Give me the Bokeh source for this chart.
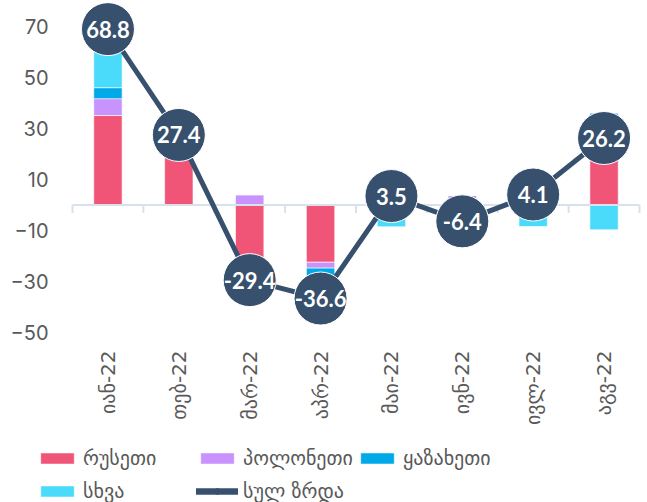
from bokeh.plotting import figure
from bokeh.models import Range1d, FixedTicker, Legend, LegendItem, ColumnDataSource
from bokeh.core.properties import value
from bokeh.embed import file_html
from bokeh.resources import INLINE

months = ["იან-22", "თებ-22", "მარ-22", "აპრ-22", "მაი-22", "ივნ-22", "ივლ-22", "აგვ-22"]
russia     = [35.0, 18.7, -30.0, -22.4, 12.0, 0.0, 12.5, 34.9]
poland     = [6.6, 0.0, 4.0, -2.3, 0.0, 3.7, 0.0, 0.0]
kazakhstan = [4.3, 0.0, 0.0, -4.5, 0.0, 0.0, 0.0, 1.0]
other      = [22.9, 0.0, -3.4, -7.4, -8.5, -10.1, -8.4, -9.7]
total      = [68.8, 27.4, -29.4, -36.6, 3.5, -6.4, 4.1, 26.2]
series_names = ["რუსეთი", "პოლონეთი", "ყაზახეთი", "სხვა"]
total_name = "სულ ზრდა"
y_ticks = [-50, -30, -10, 10, 30, 50, 70]

colors = ["#F05577", "#C893FC", "#00AAE8", "#4ADAFA"]
dark = "#36506E"
grey = "#595959"
axis_col = "#D9E1EE"
geo_font = "DejaVu Sans"

n = len(months)
xc = [i + 0.5 for i in range(n)]

# the frame covers the whole canvas; axes are pinned with fixed_location
p = figure(width=647, height=502, output_backend="svg", toolbar_location=None,
           x_range=Range1d(-1.016, n + 0.113), y_range=Range1d(-116.4, 80.0),
           min_border_left=0, min_border_right=0, min_border_top=0, min_border_bottom=0)
p.outline_line_color = None
p.xgrid.grid_line_color = None
p.ygrid.grid_line_color = None

# y axis
p.yaxis.fixed_location = 0
p.yaxis.ticker = FixedTicker(ticks=y_ticks)
p.yaxis.axis_line_color = None
p.yaxis.major_tick_line_color = None
p.yaxis.minor_tick_line_color = None
p.yaxis.major_tick_out = 0
p.yaxis.major_tick_in = 0
p.yaxis.major_label_standoff = 24
p.yaxis.major_label_text_font = "Inter"
p.yaxis.major_label_text_font_size = "20px"
p.yaxis.major_label_text_color = grey

# x axis (category labels)
p.xaxis.fixed_location = -53.0
p.xaxis.ticker = FixedTicker(ticks=xc)
p.xaxis.major_label_overrides = {x: m for x, m in zip(xc, months)}
p.xaxis.axis_line_color = None
p.xaxis.major_tick_line_color = None
p.xaxis.minor_tick_line_color = None
p.xaxis.major_tick_out = 0
p.xaxis.major_tick_in = 0
p.xaxis.major_label_standoff = 10
p.xaxis.major_label_orientation = 3.14159265 / 2
p.xaxis.major_label_text_font = geo_font
p.xaxis.major_label_text_font_size = "20px"
p.xaxis.major_label_text_color = grey

# stacked bars, positives up and negatives down
pos = [0.0] * n
neg = [0.0] * n
bar_renderers = []
for vals, col in zip([russia, poland, kazakhstan, other], colors):
    bottoms, tops = [], []
    for i, v in enumerate(vals):
        if v >= 0:
            b = pos[i]; pos[i] += v
        else:
            b = neg[i]; neg[i] += v
        bottoms.append(b); tops.append(b + v)
    r = p.vbar(x=xc, bottom=bottoms, top=tops, width=0.4, fill_color=col,
               line_color="white", line_width=0.6)
    bar_renderers.append(r)

# zero axis line with boundary ticks
bounds = list(range(n + 1))
p.segment(x0=[0], x1=[n], y0=[0], y1=[0], line_color=axis_col, line_width=2)
p.segment(x0=bounds, x1=bounds, y0=[0] * (n + 1), y1=[-3.1] * (n + 1),
          line_color=axis_col, line_width=2)

# total line with labelled circles
src = ColumnDataSource(dict(x=xc, y=total, lab=["%.1f" % t for t in total]))
ln = p.line("x", "y", source=src, line_color=dark, line_width=5)
sc = p.scatter("x", "y", source=src, size=53, marker="circle", fill_color=dark,
               line_color="white", line_width=1)
p.text("x", "y", text="lab", source=src, text_color="white", text_align="center",
       text_baseline="middle", text_font=value("Lato"), text_font_style="bold",
       text_font_size="22px")

# legend glyphs (kept off-canvas)
leg_ln = p.line([0.5, 1.5], [-300, -300], line_color=dark, line_width=6.5, line_cap="round")
leg_sc = p.scatter([1.0], [-300], size=11, marker="circle", fill_color=dark, line_color=dark)

items = [LegendItem(label=nm, renderers=[r]) for nm, r in zip(series_names, bar_renderers)]
items.append(LegendItem(label=total_name, renderers=[leg_ln, leg_sc]))
legend = Legend(items=items, ncols=3, orientation="horizontal",
                location=(36, -4), padding=0, margin=0, spacing=3,
                border_line_color=None, background_fill_alpha=0,
                glyph_width=42, glyph_height=14, label_standoff=5,
                label_text_font=geo_font, label_text_font_size="20px",
                label_text_color=grey, label_height=30, label_width=110)
p.add_layout(legend, "center")

open("out.html", "w").write(file_html(p, INLINE))
